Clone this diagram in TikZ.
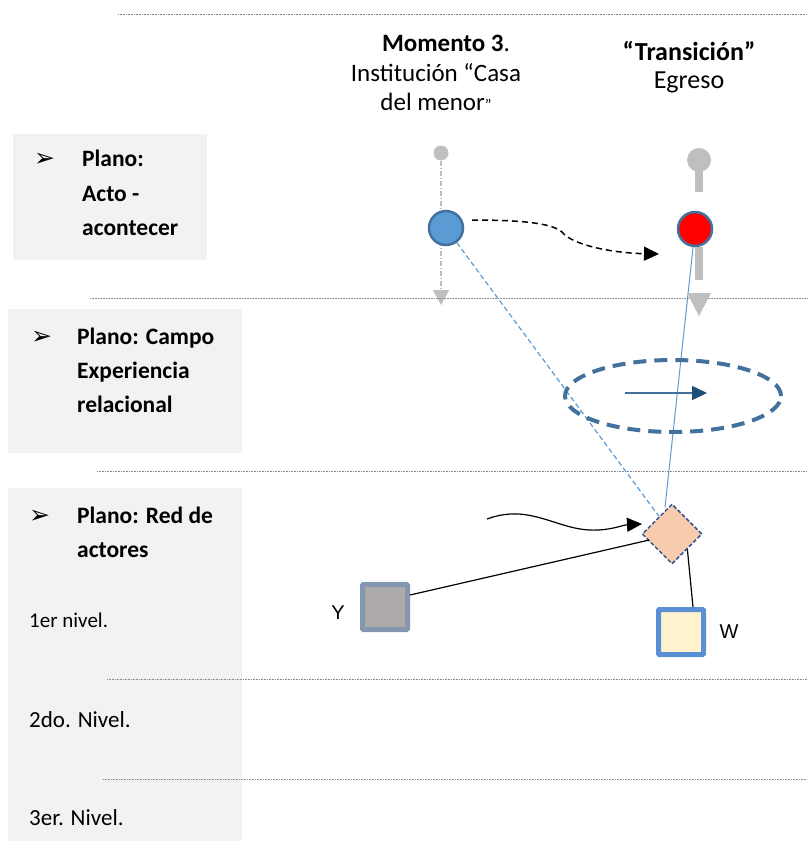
\documentclass[tikz,border=0pt]{standalone}
\usepackage{fontspec}
\setmainfont{Carlito}
\newfontfamily\arialf{Liberation Sans}
\newfontfamily\dejavu{DejaVu Sans}
\usetikzlibrary{arrows.meta,shapes.geometric}
\definecolor{panelgray}{HTML}{F2F2F2}
\definecolor{sepgray}{HTML}{8C8C8C}
\definecolor{pingray}{HTML}{BFBFBF}
\definecolor{circblue}{HTML}{5B9BD5}
\definecolor{bordblue}{HTML}{41719C}
\definecolor{ellblue}{HTML}{41719C}
\definecolor{darkblue}{HTML}{1F4E79}
\definecolor{peach}{HTML}{F8CBAD}
\definecolor{diabord}{HTML}{2F5597}
\definecolor{ygray}{HTML}{AEAAAA}
\definecolor{ybord}{HTML}{8497B0}
\definecolor{wfill}{HTML}{FFF2CC}
\definecolor{wbord}{HTML}{5B8FD5}
\pgfdeclarelayer{bg}
\pgfdeclarelayer{lines}
\pgfsetlayers{bg,lines,main}
\begin{document}
\begin{tikzpicture}[x=1pt,y=-1pt,
  panel/.style={fill=panelgray, draw=none, anchor=north west, inner sep=0pt},
  sepline/.style={sepgray, line width=0.8pt, dash pattern=on 1pt off 0.6pt},
  hdr/.style={font=\fontsize{25}{29}\selectfont, inner sep=0pt, anchor=base},
  hdrr/.style={font=\fontsize{26}{29}\selectfont, inner sep=0pt, anchor=base},
  pbold/.style={font=\fontsize{23.5}{34}\selectfont\bfseries, inner sep=0pt, anchor=base west},
  plevel/.style={font=\fontsize{23}{28}\selectfont, inner sep=0pt, anchor=base west},
  bul/.style={font=\dejavu\fontsize{25}{27}\selectfont, inner sep=0pt, anchor=base west},
  pin/.style={circle, fill=pingray, draw=none, inner sep=0pt},
  event/.style={circle, draw=bordblue, line width=2.5pt, minimum size=34pt, inner sep=0pt},
  actor/.style={rectangle, line width=5pt, minimum size=45pt, inner sep=0pt, rounded corners=1pt},
  lab/.style={font=\arialf\fontsize{20}{22}\selectfont, inner sep=0pt},
  bigtip/.style={-{Triangle[length=15pt,width=14pt]}},
]
\useasboundingbox (0,0) rectangle (807,861);

% panels
\begin{pgfonlayer}{bg}
\node[panel, minimum width=194pt, minimum height=126pt] (p1) at (13,134) {};
\node[panel, minimum width=234pt, minimum height=144pt] (p2) at (8,309) {};
\node[panel, minimum width=234pt, minimum height=353pt] (p3) at (8,488) {};
\end{pgfonlayer}

% separator lines
\draw[sepline] (118,14) -- (807,14);
\draw[sepline] (90,298) -- (807,298);
\draw[sepline] (97,471) -- (807,471);
\draw[sepline] (107,679) -- (807,679);
\draw[sepline] (103,779) -- (807,779);

% header
\node[hdr] (h1) at (446,52) {\textbf{Momento 3}.};
\node[hdr] (h2) at (436,82) {Institución “Casa};
\node[hdr] (h3) at (436,111) {del menor{\fontsize{16}{18}\selectfont”}};
\node[hdrr] (h4) at (689,61) {\textbf{“Transición”}};
\node[hdrr] (h5) at (689,89) {Egreso};

% panel texts
\node[bul] (b1) at (34,167) {➢};
\node[pbold] (t1a) at (82,167) {Plano:};
\node[pbold] (t1b) at (82,201) {Acto -};
\node[pbold] (t1c) at (82,235) {acontecer};
\node[bul] (b2) at (31,344) {➢};
\node[pbold] (t2a) at (77,344) {Plano: Campo};
\node[pbold] (t2b) at (77,378) {Experiencia};
\node[pbold] (t2c) at (77,412) {relacional};
\node[bul] (b3) at (29,523) {➢};
\node[pbold] (t3a) at (77,523) {Plano: Red de};
\node[pbold] (t3b) at (77,557) {actores};
\node[plevel, font=\fontsize{21}{24}\selectfont] (l1) at (29,627) {1er nivel.};
\node[plevel] (l2) at (29,727) {2do. Nivel.};
\node[plevel] (l3) at (29,825) {3er. Nivel.};

% nodes
\node[pin, minimum size=15pt] (gl) at (441,153) {};
\coordinate (gltip) at (441,305);
\node[event, fill=circblue] (blue) at (446,228) {};
\node[pin, minimum size=24pt] (gr) at (699,160) {};
\node[event, fill=red] (red) at (695,229) {};
\node[ellipse, draw=ellblue, line width=4pt, dash pattern=on 13pt off 8pt,
      minimum width=216pt, minimum height=72pt, inner sep=0pt] (ell) at (673,396) {};
\node[diamond, draw=diabord, fill=peach, line width=1.5pt, dash pattern=on 4pt off 2pt,
      minimum width=60pt, minimum height=60pt, inner sep=0pt] (dia) at (672,534) {};
\node[actor, fill=ygray, draw=ybord] (Y) at (385,607) {};
\node[actor, fill=wfill, draw=wbord] (W) at (681,632) {};
\node[lab] (ylab) at (338,613) {Y};
\node[lab] (wlab) at (729,632) {W};

% right pin bars and tip
\fill[pingray] (695,170) rectangle (703,192);
\fill[pingray] (695,247) rectangle (703,280);
\fill[pingray] (687,293) -- (711,293) -- (699,316) -- cycle;

% connectors
\begin{pgfonlayer}{lines}
\draw[pingray, line width=1.2pt, dash pattern=on 5pt off 2pt on 1pt off 2pt,
      -{Triangle[length=15pt,width=16pt]}] (gl) -- (gltip);
\draw[circblue, line width=1.2pt, dash pattern=on 5pt off 3pt] (blue) -- (dia);
\draw[circblue, line width=1pt] (red) -- ([shift={(-7,4)}]dia.north);
\end{pgfonlayer}

\coordinate (ds) at (472,220);
\coordinate (dt) at (659,254);
\draw[line width=1.5pt, dash pattern=on 6pt off 4pt, bigtip]
  (ds) .. controls (520,220) and (552,223) .. (562,232)
       .. controls (572,245) and (612,253) .. (dt);

\coordinate (ws) at (487,519);
\coordinate (wt) at (642,524);
\draw[line width=1.2pt, bigtip]
  (ws) .. controls (525,505) and (550,524) .. (580,529)
       .. controls (605,533) and (622,525) .. (wt);

\coordinate (ea) at (625,393);
\coordinate (eb) at (707,393);
\draw[ellblue, line width=1.5pt, -{Triangle[length=15pt,width=14pt,color=darkblue]}] (ea) -- (eb);

\draw[line width=1.2pt] ([shift={(0,-12)}]Y.east) -- ([shift={(8,6)}]dia.west);
\draw[line width=1.2pt] (dia.south east) -- ([shift={(12,0)}]W.north);
\end{tikzpicture}
\end{document}
